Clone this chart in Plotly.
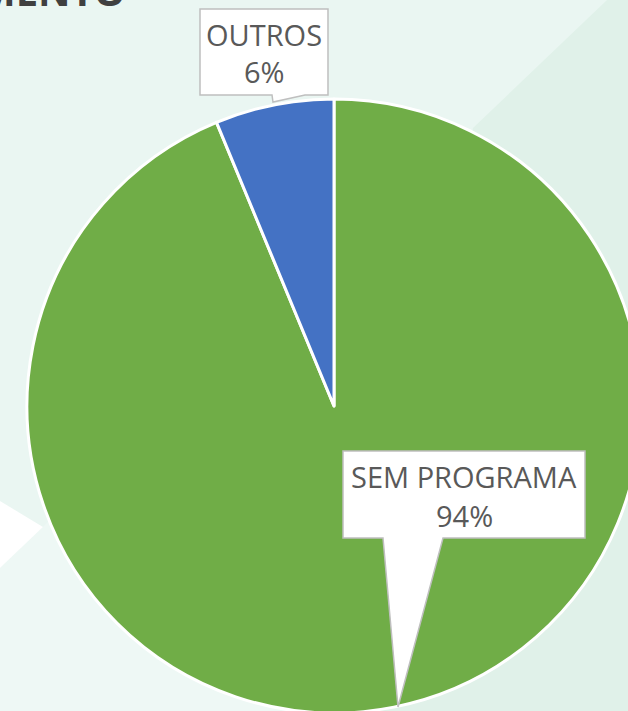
import plotly.graph_objects as go

# ---- data ----
labels = ["SEM PROGRAMA", "OUTROS"]
values = [93.75, 6.25]
colors = ["#70AD47", "#4472C4"]
title_fragment = "MENTO"

# ---- canvas (slightly larger than the window so the pie is cropped like the reference) ----
W, H = 642, 714


def px(x, y):
    return x / W, 1 - y / H


def path(points):
    parts = []
    for i, (x, y) in enumerate(points):
        fx, fy = px(x, y)
        parts.append(("M" if i == 0 else "L") + f"{fx:.5f},{fy:.5f}")
    return " ".join(parts) + " Z"


total = sum(values)
pcts = [round(v / total * 100) for v in values]

fig = go.Figure(
    go.Pie(
        labels=labels,
        values=values,
        sort=False,
        direction="counterclockwise",
        rotation=0,
        marker=dict(colors=colors, line=dict(color="white", width=3)),
        textinfo="none",
        hoverinfo="label+percent",
        domain=dict(x=[27 / W, 641 / W], y=[1 - 713 / H, 1 - 99 / H]),
        showlegend=False,
    )
)

shapes = []
# darker diagonal background band on the right
shapes.append(dict(type="path", xref="paper", yref="paper", layer="below",
                   path=path([(607, 0), (W, 0), (W, H), (380, H), (473, 128)]),
                   fillcolor="#E0F1E9", line=dict(width=0)))
# lighter lower-left region
shapes.append(dict(type="path", xref="paper", yref="paper", layer="below",
                   path=path([(0, 568), (43, 527), (150, 420), (334, H), (0, H)]),
                   fillcolor="#EEF8F5", line=dict(width=0)))
# white arrow triangle at the left
shapes.append(dict(type="path", xref="paper", yref="paper", layer="below",
                   path=path([(0, 501), (43, 527), (0, 568)]),
                   fillcolor="#FFFFFF", line=dict(width=0)))

# callout bubbles
callout_line = dict(color="#BFBFBF", width=1.5)
shapes.append(dict(type="path", xref="paper", yref="paper", layer="above",
                   path=path([(200, 9), (328, 9), (328, 95), (305, 95), (273, 102), (272, 95), (200, 95)]),
                   fillcolor="#FFFFFF", line=callout_line))
shapes.append(dict(type="path", xref="paper", yref="paper", layer="above",
                   path=path([(343, 451), (585, 451), (585, 538), (443, 538), (398, 707), (383, 538), (343, 538)]),
                   fillcolor="#FFFFFF", line=callout_line))

label_font = dict(family="Open Sans", size=29, color="#595959")
label_pos = {"OUTROS": ((264, 34), (264, 72)), "SEM PROGRAMA": ((464, 477), (464, 515))}

annotations = []
for lab, p in zip(labels, pcts):
    (lx, ly), (qx, qy) = label_pos[lab]
    ax_, ay_ = px(lx, ly)
    annotations.append(dict(x=ax_, y=ay_, xref="paper", yref="paper", text=lab,
                            showarrow=False, font=label_font, xanchor="center", yanchor="middle"))
    bx_, by_ = px(qx, qy)
    annotations.append(dict(x=bx_, y=by_, xref="paper", yref="paper", text=f"{p}%",
                            showarrow=False, font=label_font, xanchor="center", yanchor="middle"))

# cut-off slide title at the top-left
tx, ty = px(128, -10)
annotations.append(dict(x=tx, y=ty, xref="paper", yref="paper", text=f"<b>{title_fragment}</b>",
                        showarrow=False, xanchor="right", yanchor="middle",
                        font=dict(family="Open Sans", size=40, color="#404040")))

fig.update_layout(
    width=W,
    height=H,
    margin=dict(l=0, r=0, t=0, b=0),
    paper_bgcolor="#EAF6F2",
    plot_bgcolor="#EAF6F2",
    shapes=shapes,
    annotations=annotations,
)

fig.write_html(
    "out.html",
    config={"displayModeBar": False},
    post_script="document.body.style.margin='0';document.body.style.overflow='hidden';",
)
